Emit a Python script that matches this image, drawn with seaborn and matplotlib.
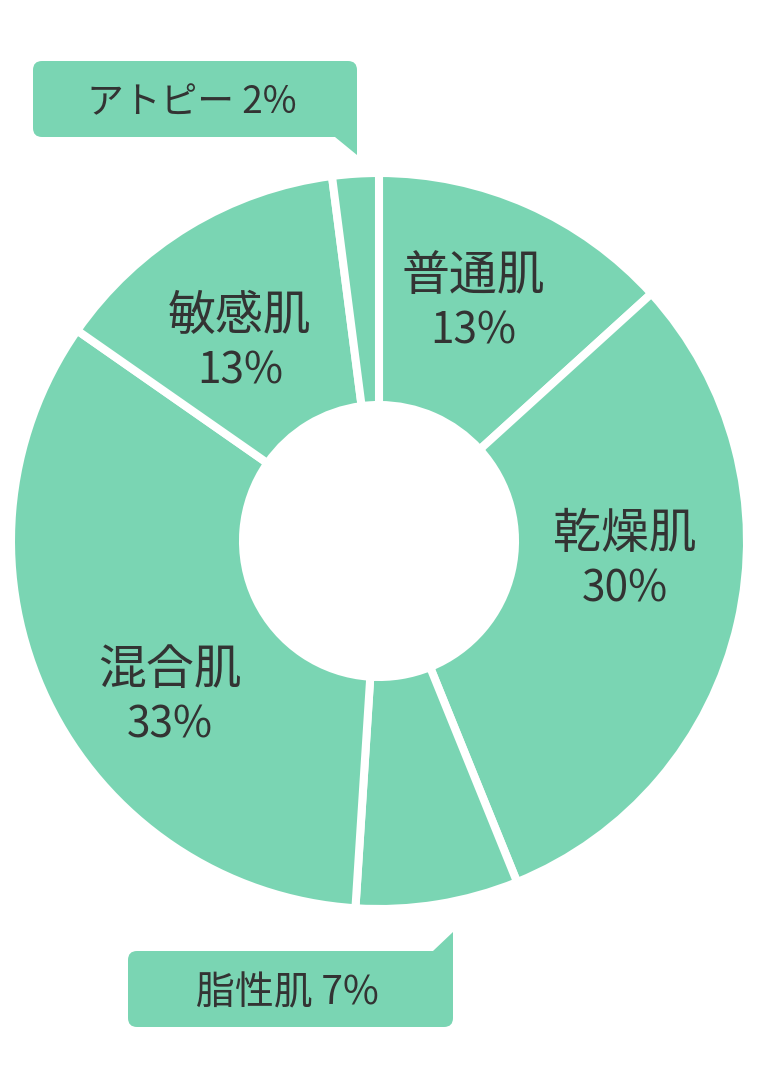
import matplotlib
matplotlib.use("Agg")
import matplotlib.pyplot as plt
from matplotlib.patches import FancyBboxPatch, Polygon
import seaborn as sns

# 肌タイプ別の割合（時計回り、上から）
categories = ["普通肌", "乾燥肌", "脂性肌", "混合肌", "敏感肌", "アトピー"]
values = [13, 30, 7, 33, 13, 2]
pct_labels = ["13%", "30%", "7%", "33%", "13%", "2%"]

W, H = 758, 1086
GREEN = "#7AD5B3"
TEXT = "#333333"

sns.set_theme(style="white")
plt.rcParams['font.family'] = ['Noto Sans CJK JP', 'DejaVu Sans']

fig = plt.figure(figsize=(W / 100, H / 100), dpi=100)
ax = fig.add_axes([0, 0, 1, 1])

def Y(py):
    # ピクセル座標(上から)をデータ座標に
    return H - py

colors = sns.color_palette([GREEN] * len(values))
ax.pie(values, colors=colors, startangle=90, counterclock=False,
       radius=368, center=(379, Y(541)),
       wedgeprops=dict(width=232, edgecolor="white", linewidth=5.8))

ax.set_xlim(0, W)
ax.set_ylim(0, H)
ax.set_aspect("equal")
ax.axis("off")

# 円の中のラベル
inside = {"普通肌": (473, 276), "乾燥肌": (625, 534),
          "混合肌": (170, 670), "敏感肌": (240, 316)}
for name, pct in zip(categories, pct_labels):
    if name in inside:
        x, y = inside[name]
        ax.text(x, Y(y), name, ha="center", va="center",
                fontsize=34.5, color=TEXT)
        ax.text(x, Y(y + 55), pct, ha="center", va="center",
                fontsize=30.5, color=TEXT)

# 吹き出し
def callout(x0, y0, x1, y1, tail, text, fs):
    box = FancyBboxPatch((x0, Y(y1)), x1 - x0, y1 - y0,
                         boxstyle="round,pad=0,rounding_size=9",
                         facecolor=GREEN, edgecolor="none")
    ax.add_patch(box)
    ax.add_patch(Polygon([(px, Y(py)) for px, py in tail],
                         closed=True, facecolor=GREEN, edgecolor="none"))
    ax.text((x0 + x1) / 2 - 3, Y((y0 + y1) / 2 + 4), text, ha="center",
            va="center", fontsize=fs, color=TEXT)

callout(33, 61, 357, 137,
        [(335, 137), (335, 126), (357, 126), (357, 155)],
        f"{categories[5]} {pct_labels[5]}", 26.5)
callout(128, 951, 453, 1027,
        [(433, 951), (433, 962), (453, 962), (453, 932)],
        f"{categories[2]} {pct_labels[2]}", 28)

fig.savefig("out.png", dpi=100, facecolor="white")
